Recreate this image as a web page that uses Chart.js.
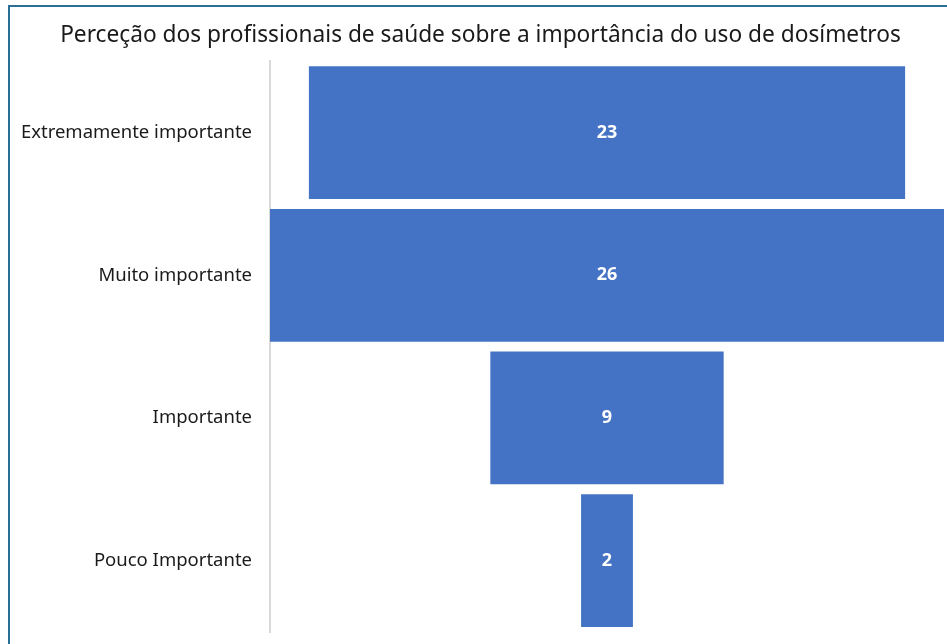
<!DOCTYPE html>
<html lang="pt">
<head>
<meta charset="utf-8">
<title>Perceção dos profissionais de saúde</title>
<script src="https://cdn.jsdelivr.net/npm/chart.js@4"></script>
<style>
  html, body { margin: 0; padding: 0; background: #fff; overflow: hidden; }
  .frame {
    position: absolute; left: 8px; top: 5px; width: 960px; height: 660px;
    border-left: 2px solid #2b6e96; border-top: 2px solid #2b6e96;
    box-sizing: border-box; pointer-events: none; z-index: 2;
  }
  .wrap { position: absolute; left: 0; top: 0; width: 947px; height: 644px; }
</style>
</head>
<body>
<div class="wrap"><canvas id="funnel" width="947" height="644"></canvas></div>
<div class="frame"></div>
<script>
// Survey answers, most important first
const categories = ['Extremamente importante', 'Muito importante', 'Importante', 'Pouco Importante'];
const respostas = [23, 26, 9, 2];

const FONT = '"Noto Sans", "Open Sans", sans-serif';
const maxVal = Math.max(...respostas);

// each bar is centred on zero so the stack reads as a funnel
const funnelData = respostas.map(v => [-v / 2, v / 2]);

// white count in the middle of every bar
const centreLabels = {
    id: 'centreLabels',
    afterDatasetsDraw(chart) {
        const { ctx } = chart;
        const meta = chart.getDatasetMeta(0);
        ctx.save();
        ctx.fillStyle = '#ffffff';
        ctx.font = 'bold 18px ' + FONT;
        ctx.textAlign = 'center';
        ctx.textBaseline = 'middle';
        meta.data.forEach((bar, i) => {
            const x = chart.scales.x.getPixelForValue(0);
            ctx.fillText(String(respostas[i]), x, bar.y);
        });
        ctx.restore();
    }
};

new Chart(document.getElementById('funnel'), {
    type: 'bar',
    data: {
        labels: categories,
        datasets: [{
            data: funnelData,
            backgroundColor: '#4472c4',
            borderSkipped: false,
            borderWidth: 0,
            barPercentage: 0.93,
            categoryPercentage: 1
        }]
    },
    options: {
        indexAxis: 'y',
        responsive: false,
        animation: false,
        layout: { padding: { left: 17, right: 3, top: 4, bottom: 12 } },
        plugins: {
            legend: { display: false },
            tooltip: { enabled: false },
            title: {
                display: true,
                text: 'Perceção dos profissionais de saúde sobre a importância do uso de dosímetros',
                color: '#1a1a1a',
                font: { family: FONT, size: 22.7, weight: 'normal' },
                padding: { top: 18, bottom: 12 }
            }
        },
        scales: {
            x: {
                display: false,
                min: -maxVal / 2,
                max: maxVal / 2
            },
            y: {
                grid: { display: false, drawTicks: false },
                border: { display: true, color: '#d9d9d9', width: 2 },
                ticks: {
                    color: '#1a1a1a',
                    padding: 18,
                    font: { family: FONT, size: 18.5 }
                },
                afterFit(scale) {
                    // fixed label column, no extra room above/below the bars
                    scale.width = 253;
                    scale.paddingTop = 0;
                    scale.paddingBottom = 0;
                }
            }
        }
    },
    plugins: [centreLabels]
});
</script>
</body>
</html>
